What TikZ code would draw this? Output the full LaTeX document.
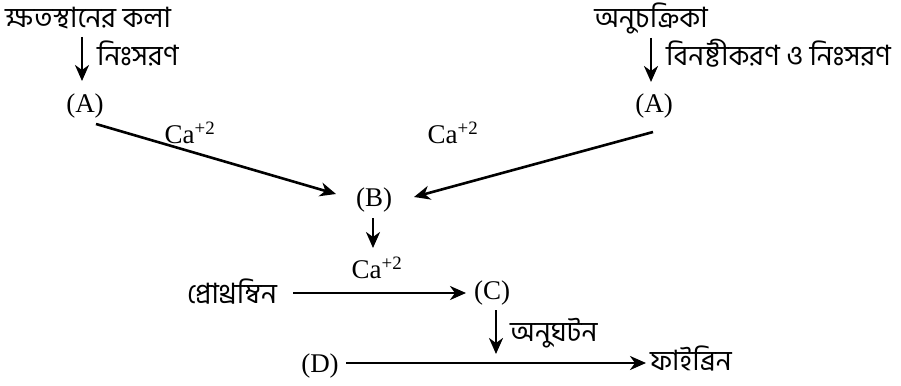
\documentclass[tikz,border=0pt]{standalone}
\usepackage{fontspec}
\setmainfont{Liberation Serif}
\newfontfamily\bn[Script=Bengali]{Hind Siliguri}
\usetikzlibrary{arrows.meta}
\begin{document}
\begin{tikzpicture}[x=1pt,y=-1pt,
  lat/.style={inner sep=0pt,font=\fontsize{27}{30}\selectfont},
  bng/.style={inner sep=0pt,font=\fontsize{28}{30}\selectfont\bn},
  arr/.style={line width=2.6pt,-{Stealth[length=16pt,width=14pt,inset=5pt]}}]
\useasboundingbox (0,0) rectangle (901,385);
% top left
\node[bng,anchor=base] (t1) at (88,28) {ক্ষতস্থানের কলা};
\node[lat] (a1) at (85,106) {(A)};
\coordinate (l1s) at (82,37);
\coordinate (l1e) at (82,81);
\draw[arr] (l1s) -- (l1e);
\node[bng,anchor=base west] (n1) at (97,66) {নিঃসরণ};
% top right
\node[bng,anchor=base] (t2) at (651,28) {অনুচক্রিকা};
\node[lat] (a2) at (654,106) {(A)};
\coordinate (r1s) at (651,38);
\coordinate (r1e) at (651,82);
\draw[arr] (r1s) -- (r1e);
\node[bng,anchor=base west] (n2) at (666,66) {বিনষ্টীকরণ ও নিঃসরণ};
% B
\node[lat] (b) at (374,200) {(B)};
\node[lat] (ca1) at (190,133) {Ca\textsuperscript{+2}};
\node[lat] (ca2) at (453,133) {Ca\textsuperscript{+2}};
\coordinate (d1s) at (96,124);
\coordinate (d1e) at (336,194);
\draw[arr] (d1s) -- (d1e);
\coordinate (d2s) at (653,132);
\coordinate (d2e) at (414,197);
\draw[arr] (d2s) -- (d2e);
\coordinate (bs) at (373,218);
\coordinate (be) at (373,248);
\draw[arr] (bs) -- (be);
% C row
\node[bng,anchor=base] (p) at (232,303) {প্রোথ্রম্বিন};
\node[lat] (c) at (492,293) {(C)};
\node[lat] (ca3) at (377,268) {Ca\textsuperscript{+2}};
\coordinate (hs) at (293,293);
\coordinate (he) at (466,293);
\draw[arr] (hs) -- (he);
\coordinate (cs) at (496,310);
\coordinate (ce) at (496,354);
\draw[arr] (cs) -- (ce);
\node[bng,anchor=base west] (n3) at (510,341) {অনুঘটন};
% D row
\node[lat] (d) at (320,366) {(D)};
\node[bng,anchor=base west] (f) at (650,370) {ফাইব্রিন};
\coordinate (ds) at (346,363);
\coordinate (de) at (646,363);
\draw[arr] (ds) -- (de);
\end{tikzpicture}
\end{document}
